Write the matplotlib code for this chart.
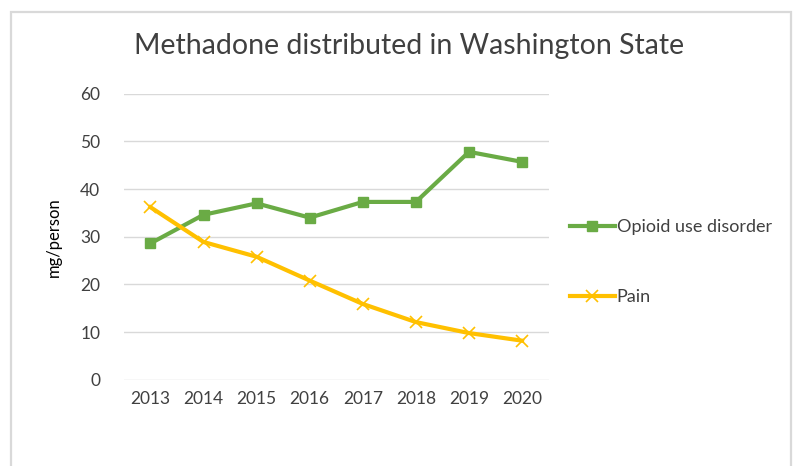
import matplotlib.pyplot as plt
from matplotlib.patches import Rectangle

years = ['2013', '2014', '2015', '2016', '2017', '2018', '2019', '2020']
oud = [28.6, 34.6, 37.0, 34.0, 37.3, 37.3, 47.8, 45.7]
pain = [36.2, 28.9, 25.8, 20.8, 15.9, 12.1, 9.8, 8.2]

plt.rcParams['font.family'] = ['Lato', 'DejaVu Sans']

fig = plt.figure(figsize=(7.94, 4.66), dpi=100)
ax = fig.add_axes([0.156, 0.185, 0.535, 0.614])

# light frame around the chart area, as in the spreadsheet export
fig.patches.append(Rectangle((11 / 794, -0.05), 780 / 794, 1.05 - 12 / 466,
                             transform=fig.transFigure, fill=False,
                             edgecolor='#d9d9d9', linewidth=1.6))

x = range(len(years))
ax.plot(x, oud, color='#6aab45', linewidth=3, marker='s', markersize=7,
        label='Opioid use disorder')
ax.plot(x, pain, color='#ffc000', linewidth=3, marker='x', markersize=8,
        markeredgewidth=1.2, label='Pain')

ax.set_xlim(-0.5, len(years) - 0.5)
ax.set_ylim(0, 60)
ax.set_yticks(range(0, 61, 10))
ax.set_xticks(list(x))
ax.set_xticklabels(years)
ax.grid(axis='y', color='#d9d9d9', linewidth=1)
ax.set_axisbelow(True)
for s in ax.spines.values():
    s.set_visible(False)
ax.tick_params(length=0, labelsize=12.5, colors='#404040', pad=8)
ax.tick_params(axis='y', pad=17)
ax.set_ylabel('mg/person', fontsize=12, color='#000000', labelpad=13)

fig.text(0.515, 0.902, 'Methadone distributed in Washington State',
         ha='center', va='center', fontsize=20.5, color='#404040')

leg = fig.legend(loc='upper left', bbox_to_anchor=(0.697, 0.565), frameon=False,
                 fontsize=13, handlelength=2.5, handletextpad=0.1,
                 labelspacing=3.0)
for t in leg.get_texts():
    t.set_color('#404040')

fig.savefig('out.png', dpi=100)
